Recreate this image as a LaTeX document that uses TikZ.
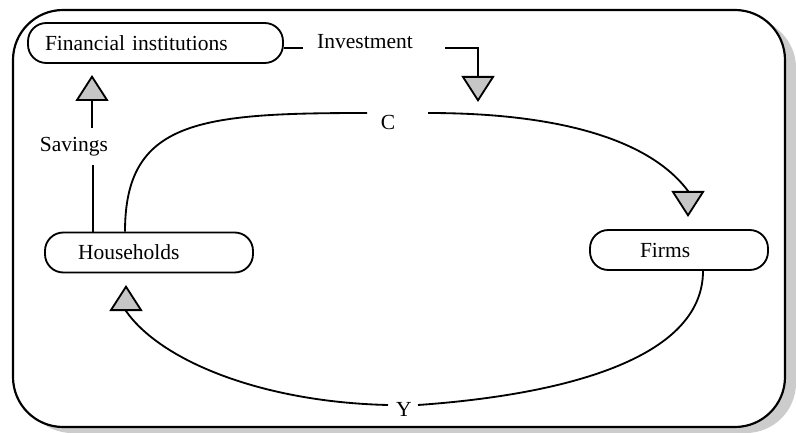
\documentclass[tikz,border=0pt]{standalone}
\usepackage{fontspec}
\setmainfont{Liberation Serif}
\usetikzlibrary{arrows.meta}
\begin{document}
\begin{tikzpicture}[x=0.6pt,y=-0.6pt, line width=1.1pt,
  box/.style={draw, rounded corners=11pt, minimum height=24pt, inner ysep=0pt, align=left, font=\fontsize{12.9}{15}\selectfont},
  lbl/.style={font=\fontsize{12.9}{15}\selectfont, inner sep=1pt},
  tri/.style={-{Triangle[width=19.8pt,length=15.6pt,fill=gray!45,line width=1.1pt]}}
]
\useasboundingbox (0,0) rectangle (796,433);
\fill[gray!40, rounded corners=30pt] (22,18) rectangle (796,433);
\draw[fill=white, line width=1.3pt, rounded corners=30pt] (13,10) rectangle (785,427);

\node[box, minimum width=153pt, text width=132.6pt, inner xsep=10.2pt] (fi) at (155.5,43) {Financial institutions};
\node[box, minimum width=124.8pt, text width=85.2pt, inner xsep=19.8pt] (hh) at (149,252.5) {Households};
\node[box, minimum width=106.8pt, text width=46.8pt, inner xsep=30pt] (firms) at (679,250) {Firms};

\node[lbl] (inv) at (365,42) {Investment};
\node[lbl] (sav) at (74,147) {Savings};
\node[lbl] (c) at (388,122) {C};
\node[lbl] (y) at (404,409) {Y};

\coordinate (x93) at (93,0);
\coordinate (x125) at (125,0);
\coordinate (x703) at (703,0);
\coordinate (i1) at (303,48);
\coordinate (i2) at (445,48);
\coordinate (itip) at (478,102);
\coordinate (s1) at (93,165);
\coordinate (s2) at (92,128);
\coordinate (stip) at (92,75);
\coordinate (cl) at (367,113);
\coordinate (cr) at (428,113);
\coordinate (cbase) at (688,191);
\coordinate (ctip) at (688,217);
\coordinate (yr) at (418,405);
\coordinate (yl) at (388,405);
\coordinate (hbase) at (126,311);
\coordinate (htip) at (126,285);

% Investment
\draw (fi.east |- i1) -- (i1);
\draw[tri] (i2) -| (itip);
% Savings
\draw (hh.north -| x93) -- (s1);
\draw[tri] (s2) -- (stip);
% C flow
\draw (hh.north -| x125) .. controls (125,120) and (200,113) .. (cl);
\draw[tri] (cr) .. controls (560,113) and (650,140) .. (cbase) -- (ctip);
% Y flow
\draw (firms.south -| x703) .. controls (703,360) and (560,395) .. (yr);
\draw[tri] (yl) .. controls (260,402) and (160,360) .. (hbase) -- (htip);
\end{tikzpicture}
\end{document}
